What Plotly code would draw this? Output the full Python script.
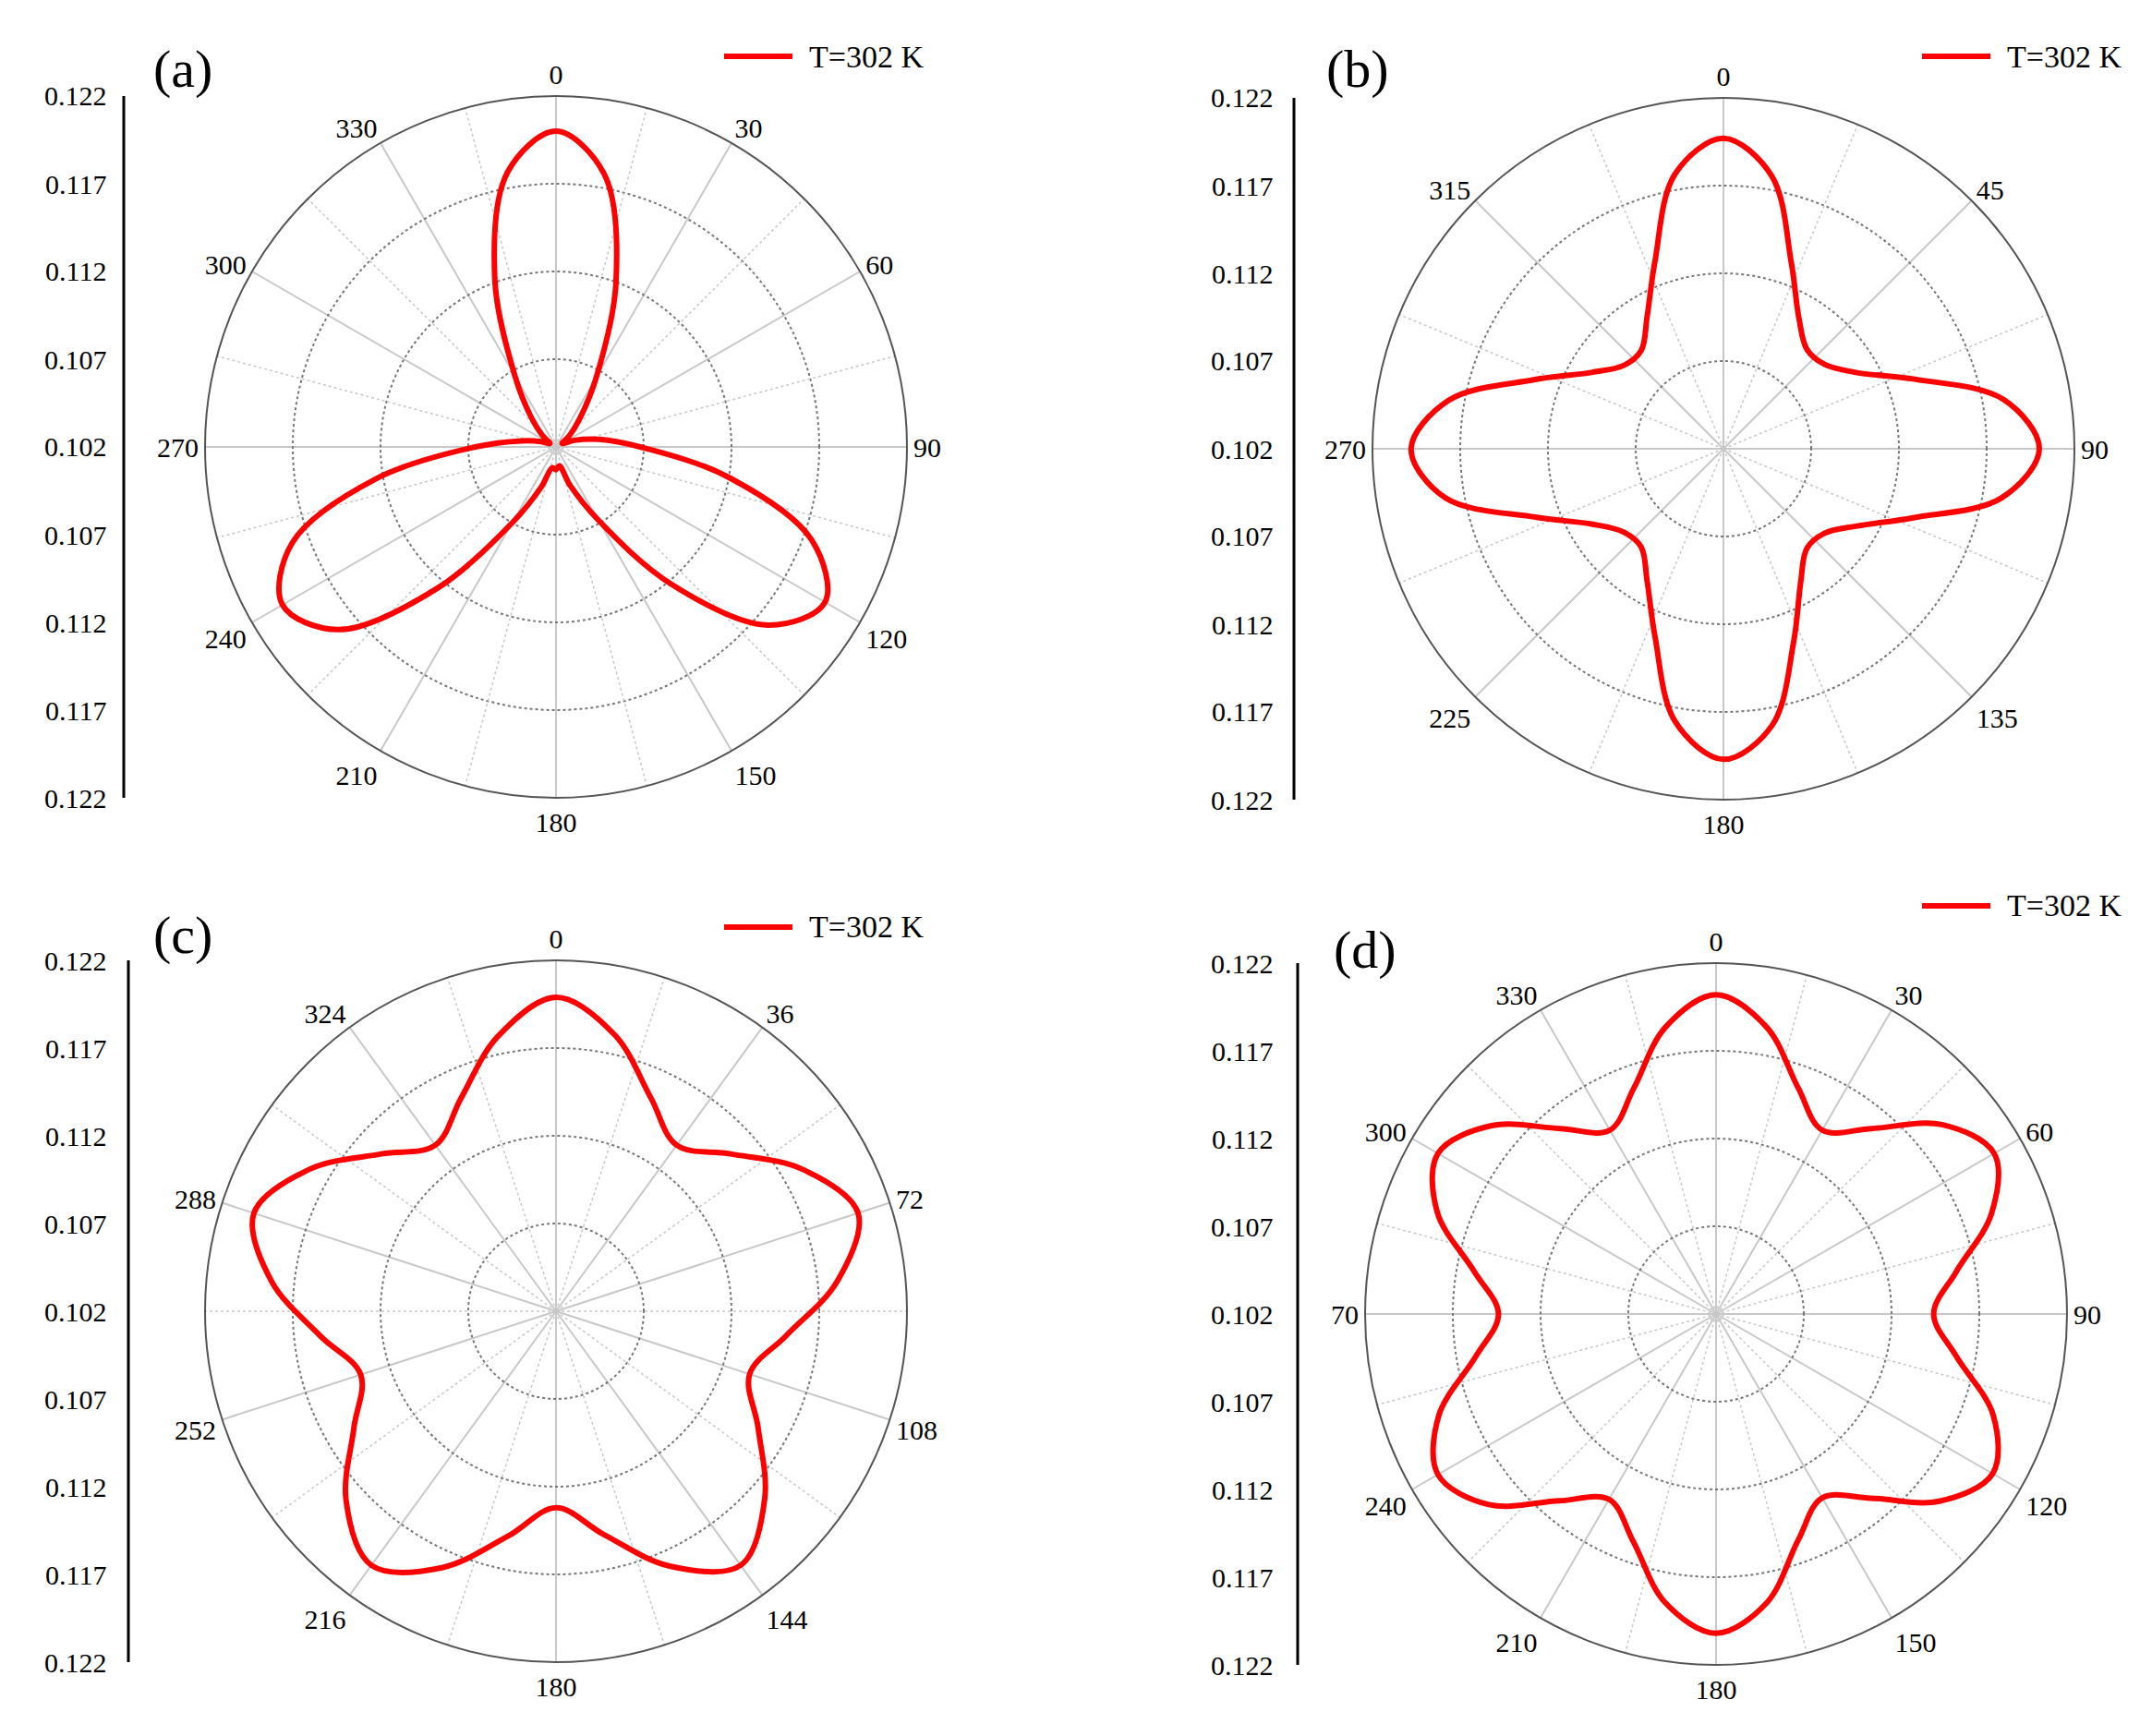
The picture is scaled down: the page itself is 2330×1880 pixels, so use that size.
import plotly.graph_objects as go

theta_a = list(range(0, 360, 10))
r_a = [.1200,.1178,.1120,.1066,.1041,.1030,.1024,.1031,.1045,.1068,.1120,.1175,.1197,.1178,.1122,.1068,.1043,.1031,
       .1033,.1032,.1044,.1070,.1125,.1182,.1200,.1180,.1124,.1066,.1040,.1029,.1024,.1030,.1042,.1067,.1122,.1179]
theta_b = list(range(0, 360, 10))
r_b = [.1197,.1178,.1133,.1106,.1094,.1095,.1107,.1136,.1182,.1200,.1181,.1135,.1108,.1095,.1094,.1108,.1137,.1180,
       .1197,.1178,.1134,.1107,.1093,.1094,.1106,.1134,.1181,.1198,.1179,.1135,.1107,.1094,.1093,.1107,.1134,.1179]
theta_c = list(range(0, 360, 12))
r_c = [.1199,.1181,.1153,.1137,.1154,.1182,.1201,.1181,.1152,.1136,.1153,.1180,.1199,.1179,.1150,.1132,.1151,.1180,
       .1199,.1181,.1153,.1137,.1155,.1183,.1201,.1182,.1154,.1137,.1153,.1180]
theta_d = list(range(0, 360, 10))
r_d = [.1202,.1186,.1157,.1141,.1158,.1188,.1203,.1187,.1159,.1144,.1159,.1188,.1202,.1186,.1157,.1141,.1157,.1187,
       .1202,.1187,.1158,.1142,.1159,.1189,.1203,.1188,.1159,.1144,.1160,.1189,.1203,.1187,.1158,.1141,.1157,.1186]

ticks_a = list(range(0, 360, 30)); text_a = [str(t) for t in ticks_a]
ticks_b = list(range(0, 360, 45)); text_b = [str(t) for t in ticks_b]
ticks_c = list(range(0, 360, 36)); text_c = [str(t) for t in ticks_c]
ticks_d = list(range(0, 360, 30)); text_d = ["0","30","60","90","120","150","180","210","240","70","300","330"]
radial_labels = ["0.122","0.117","0.112","0.107","0.102","0.107","0.112","0.117","0.122"]
legend_text = "T=302 K"
RMIN, RMAX = 0.102, 0.122
FONT = "Liberation Serif"

W, H = 2330, 1880
panels = [
    dict(name="polar", lab="(a)", th=theta_a, r=r_a, tv=ticks_a, tt=text_a, cx=594, cy=476, ax=126, lx=74,
         leg=(776, 53), labpos=(190, 67)),
    dict(name="polar2", lab="(b)", th=theta_b, r=r_b, tv=ticks_b, tt=text_b, cx=1858, cy=478, ax=1393, lx=1337,
         leg=(2073, 53), labpos=(1462, 67)),
    dict(name="polar3", lab="(c)", th=theta_c, r=r_c, tv=ticks_c, tt=text_c, cx=594, cy=1412, ax=131, lx=74,
         leg=(776, 996), labpos=(190, 1005)),
    dict(name="polar4", lab="(d)", th=theta_d, r=r_d, tv=ticks_d, tt=text_d, cx=1850, cy=1415, ax=1397, lx=1337,
         leg=(2073, 973), labpos=(1470, 1020)),
]
R = 380

fig = go.Figure()
annotations, shapes = [], []
for p in panels:
    sub = p["name"]
    step = p["tv"][1] - p["tv"][0]
    for t in p["tv"]:
        fig.add_trace(go.Scatterpolar(r=[RMIN, RMAX], theta=[t + step / 2] * 2, mode="lines",
                                      line=dict(color="#c8c8c8", width=1.5, dash="dot"),
                                      subplot=sub, showlegend=False, hoverinfo="skip"))
    fig.add_trace(go.Scatterpolar(r=p["r"] + [p["r"][0]], theta=p["th"] + [p["th"][0]], mode="lines",
                                  line=dict(color="#ff0000", width=6, shape="spline"),
                                  subplot=sub, showlegend=False, name=legend_text))
    x0, x1 = (p["cx"] - R) / W, (p["cx"] + R) / W
    y0, y1 = (H - p["cy"] - R) / H, (H - p["cy"] + R) / H
    fig.layout[sub] = dict(
        domain=dict(x=[x0, x1], y=[y0, y1]), bgcolor="white",
        radialaxis=dict(range=[RMIN, RMAX], tickvals=[0.107, 0.112, 0.117], showticklabels=False,
                        showline=False, ticks="", gridcolor="#777777", griddash="dot", gridwidth=1.5),
        angularaxis=dict(rotation=90, direction="clockwise", tickvals=p["tv"], ticktext=p["tt"],
                         showline=True, linecolor="#555555", linewidth=2, gridcolor="#c8c8c8", gridwidth=1.5,
                         ticks="", tickfont=dict(family=FONT, size=30, color="black")),
    )
    shapes.append(dict(type="line", xref="paper", yref="paper", x0=p["ax"] / W, x1=p["ax"] / W,
                       y0=(H - p["cy"] - R) / H, y1=(H - p["cy"] + R) / H, line=dict(color="black", width=3)))
    for i, lab in enumerate(radial_labels):
        yy = p["cy"] - R + i * (2 * R / 8)
        annotations.append(dict(x=p["lx"] / W, y=(H - yy) / H, xref="paper", yref="paper", text=lab,
                                xanchor="center", yanchor="middle",
                                showarrow=False, font=dict(family=FONT, size=30, color="black")))
    lx, ly = p["leg"]
    shapes.append(dict(type="line", xref="paper", yref="paper", x0=lx / W, x1=(lx + 74) / W,
                       y0=(H - ly) / H, y1=(H - ly) / H, line=dict(color="#ff0000", width=6)))
    annotations.append(dict(x=(lx + 90) / W, y=(H - ly) / H, xref="paper", yref="paper", text=legend_text,
                            xanchor="left", yanchor="middle", showarrow=False,
                            font=dict(family=FONT, size=34, color="black")))
    annotations.append(dict(x=p["labpos"][0] / W, y=(H - p["labpos"][1]) / H, xref="paper", yref="paper",
                            text=p["lab"], xanchor="center", yanchor="middle", showarrow=False,
                            font=dict(family=FONT, size=58, color="black")))

fig.update_layout(width=W, height=H, margin=dict(l=0, r=0, t=0, b=0), paper_bgcolor="white",
                  annotations=annotations, shapes=shapes, showlegend=False)
fig.write_html("out.html")
